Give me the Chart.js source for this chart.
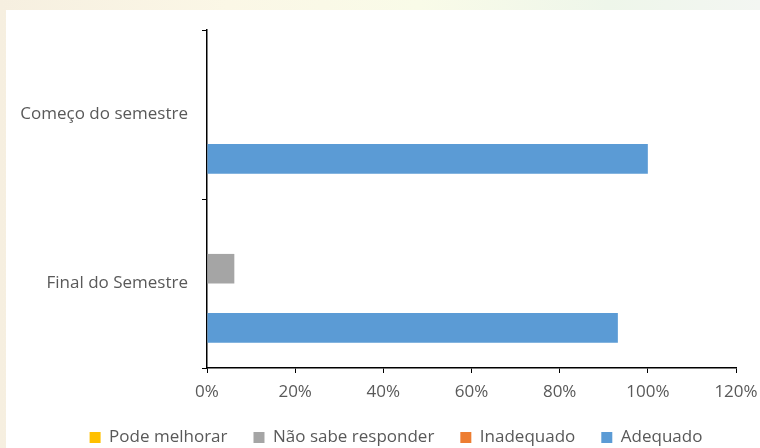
<!DOCTYPE html>
<html>
<head>
<meta charset="utf-8">
<script src="https://cdn.jsdelivr.net/npm/chart.js@4"></script>
<style>
  html, body { margin: 0; padding: 0; }
  body {
    width: 760px; height: 448px; overflow: hidden;
    background: linear-gradient(90deg, #f6efe0 0%, #fbf7e6 30%, #f9fbe8 55%, #eef6ea 80%, #f3f6f2 100%);
  }
  #card { position: absolute; left: 6px; top: 10px; width: 754px; height: 438px; background: #fff; }
</style>
</head>
<body>
<div id="card"><canvas id="chart" width="754" height="438"></canvas></div>
<script>
const categories = ['Começo do semestre', 'Final do Semestre'];
const seriesNames = ['Pode melhorar', 'Não sabe responder', 'Inadequado', 'Adequado'];
const podeMelhorar = [0, 0];
const naoSabeResponder = [0, 0.062];
const inadequado = [0, 0];
const adequado = [1.0, 0.932];
const seriesColors = ['#FFC000', '#A5A5A5', '#ED7D31', '#5B9BD5'];

const textColor = '#595959';
const font = { family: "'Open Sans', 'Noto Sans', sans-serif", size: 17 };

// legend keeps wide item spacing but only takes a short strip at the bottom,
// and sits a bit right of the canvas centre like the original
const legendPlacement = {
  id: 'legendPlacement',
  beforeInit(chart) {
    const fit = chart.legend.fit;
    chart.legend.fit = function () {
      fit.call(this);
      this.height = 45;
    };
  },
  afterLayout(chart) {
    chart.legend.left += 25;
    chart.legend.right += 25;
  }
};

const ctx = document.getElementById('chart').getContext('2d');
new Chart(ctx, {
  type: 'bar',
  data: {
    labels: categories,
    datasets: [podeMelhorar, naoSabeResponder, inadequado, adequado].map((vals, i) => ({
      label: seriesNames[i],
      data: vals,
      backgroundColor: seriesColors[i],
      borderWidth: 0,
      categoryPercentage: 0.7,
      barPercentage: 1.0
    }))
  },
  options: {
    indexAxis: 'y',
    responsive: false,
    animation: false,
    layout: { padding: { top: 20, right: 24, left: 0, bottom: 0 } },
    scales: {
      x: {
        min: 0,
        max: 1.2,
        ticks: {
          stepSize: 0.2,
          color: textColor,
          font: font,
          padding: 9,
          callback: v => Math.round(v * 100) + '%'
        },
        grid: { display: true, drawOnChartArea: false, drawTicks: true, tickLength: 5, color: '#000' },
        border: { display: true, color: '#000', width: 1.5 },
        afterFit: scale => { scale.height = 35; scale.paddingRight = 0; }
      },
      y: {
        ticks: { color: textColor, font: font, padding: 14 },
        grid: { display: true, drawOnChartArea: false, drawTicks: true, tickLength: 5, color: '#000', offset: true },
        border: { display: true, color: '#000', width: 1.5 },
        afterFit: scale => { scale.width = 201; scale.paddingTop = 0; scale.paddingBottom = 0; }
      }
    },
    plugins: {
      legend: {
        position: 'bottom',
        labels: {
          color: textColor,
          font: font,
          boxWidth: 11,
          boxHeight: 11,
          padding: 26
        }
      },
      tooltip: { enabled: false }
    }
  },
  plugins: [legendPlacement]
});
</script>
</body>
</html>
